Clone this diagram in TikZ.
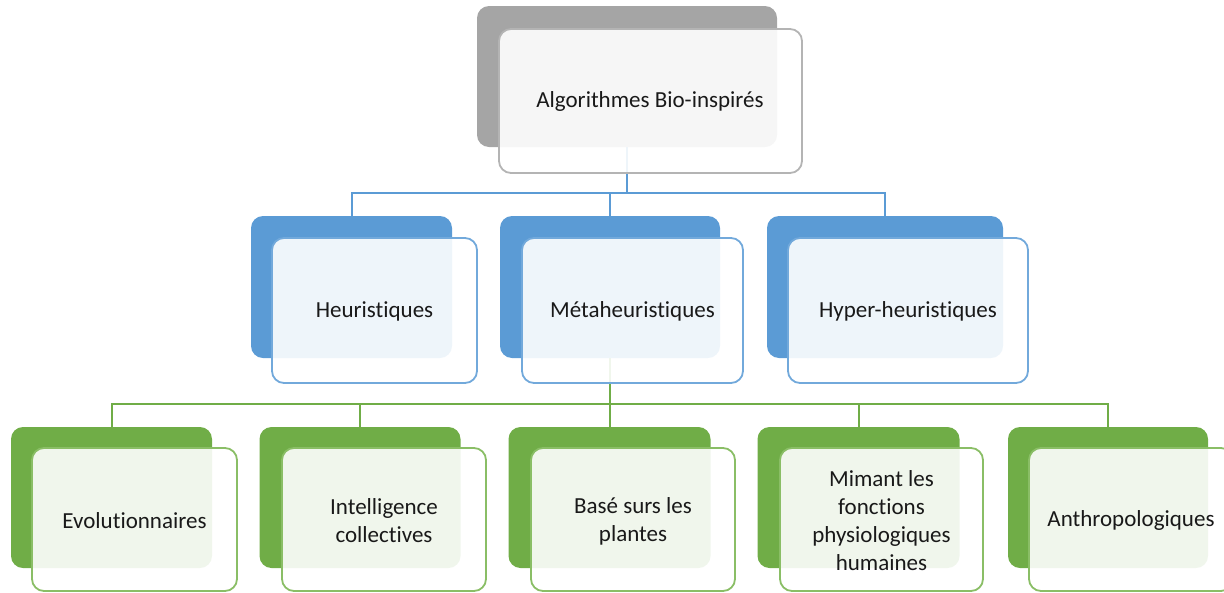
\documentclass[tikz,border=0pt]{standalone}
\usepackage{fontspec}
\setmainfont{Carlito}[Ligatures={NoCommon}]
\definecolor{cgray}{HTML}{A5A5A5}
\definecolor{cgrayb}{HTML}{B4B4B4}
\definecolor{cblue}{HTML}{5B9BD5}
\definecolor{cblueb}{HTML}{72A9DB}
\definecolor{cgreen}{HTML}{70AD47}
\definecolor{cgreenb}{HTML}{8ABE66}
\tikzset{
  backbox/.style={rectangle, rounded corners=12pt, fill=#1, draw=none, inner sep=0pt, outer sep=0pt},
  frontbox/.style={rectangle, rounded corners=12pt, draw=#1, line width=1.8pt, fill=white, fill opacity=0.9, inner sep=0pt, outer sep=0pt},
  txt/.style={inner sep=0pt, align=center, font=\fontsize{23}{28}\selectfont, text=black!90},
  conn/.style={line width=2pt, draw=#1},
}
\begin{document}
\begin{tikzpicture}[x=1pt,y=-1pt]
\useasboundingbox (0,0) rectangle (1224,592);
\clip (0,0) rectangle (1224,592);
% back boxes
\node[backbox=cgray, minimum width=300pt, minimum height=141pt] (topB) at (627,76.5) {};
\node[backbox=cblue, minimum width=201pt, minimum height=142pt] (hB) at (351.5,287) {};
\node[backbox=cblue, minimum width=220pt, minimum height=142pt] (mB) at (610,287) {};
\node[backbox=cblue, minimum width=236pt, minimum height=142pt] (yB) at (885,287) {};
\node[backbox=cgreen, minimum width=201pt, minimum height=141pt] (eB) at (111.5,497.5) {};
\node[backbox=cgreen, minimum width=201pt, minimum height=141pt] (iB) at (360,497.5) {};
\node[backbox=cgreen, minimum width=202pt, minimum height=141pt] (bB) at (609.5,497.5) {};
\node[backbox=cgreen, minimum width=202pt, minimum height=141pt] (pB) at (858.5,497.5) {};
\node[backbox=cgreen, minimum width=200pt, minimum height=141pt] (aB) at (1108,497.5) {};
% connectors
\coordinate (bus1) at (627,193);
\coordinate (bus2) at (610,404);
\draw[conn=cblue] (topB.south) -- (bus1) -| (hB.north);
\draw[conn=cblue] (topB.south) -- (bus1) -| (mB.north);
\draw[conn=cblue] (topB.south) -- (bus1) -| (yB.north);
\foreach \c in {eB,iB,bB,pB,aB}{
  \draw[conn=cgreen] (mB.south) -- (bus2) -| (\c.north);
}
% front boxes
\node[frontbox=cgrayb, minimum width=303pt, minimum height=144pt] (top) at (650.5,101) {};
\node[frontbox=cblueb, minimum width=205pt, minimum height=145pt] (h) at (374.5,310.5) {};
\node[frontbox=cblueb, minimum width=221pt, minimum height=145pt] (m) at (632.5,310.5) {};
\node[frontbox=cblueb, minimum width=240pt, minimum height=145pt] (y) at (908,310.5) {};
\node[frontbox=cgreenb, minimum width=205pt, minimum height=143pt] (e) at (134.5,519.5) {};
\node[frontbox=cgreenb, minimum width=204pt, minimum height=143pt] (i) at (384,519.5) {};
\node[frontbox=cgreenb, minimum width=204pt, minimum height=143pt] (b) at (633,519.5) {};
\node[frontbox=cgreenb, minimum width=203pt, minimum height=143pt] (p) at (881.5,519.5) {};
\node[frontbox=cgreenb, minimum width=204pt, minimum height=143pt] (a) at (1131,519.5) {};
% texts
\node[txt] (topT) at (650,101) {Algorithmes Bio-inspirés};
\node[txt] (hT) at (374.5,311) {Heuristiques};
\node[txt] (mT) at (632.5,311) {Métaheuristiques};
\node[txt] (yT) at (908,311) {Hyper-heuristiques};
\node[txt] (eT) at (134.5,520.5) {Evolutionnaires};
\node[txt] (iT) at (384,521) {Intelligence\\collectives};
\node[txt] (bT) at (633,521) {Basé surs les\\plantes};
\node[txt] (pT) at (881.5,521) {Mimant les\\fonctions\\physiologiques\\humaines};
\node[txt] (aT) at (1131,520.5) {Anthropologiques};
\end{tikzpicture}
\end{document}
